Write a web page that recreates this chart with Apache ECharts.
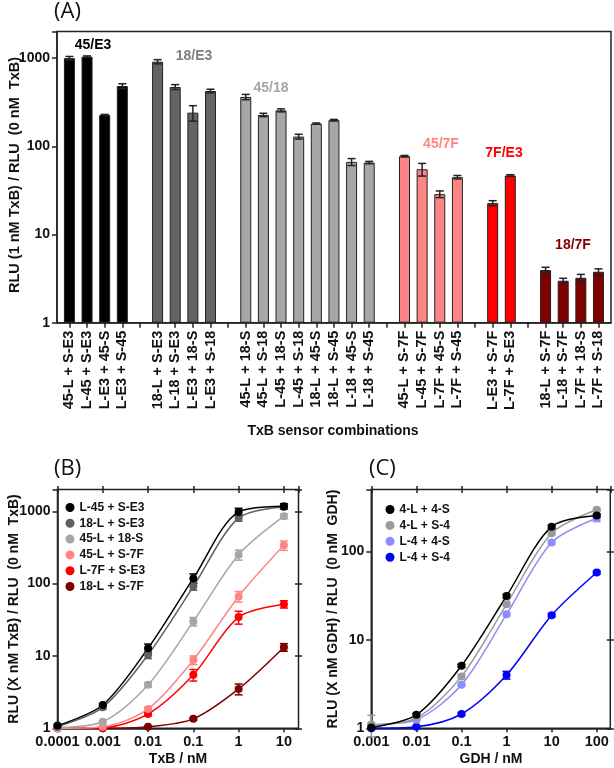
<!DOCTYPE html>
<html><head><meta charset="utf-8">
<script src="https://cdn.jsdelivr.net/npm/echarts@6/dist/echarts.min.js"></script>
<style>html,body{margin:0;padding:0;background:#fff}#c{width:614px;height:768px}</style>
</head><body><div id="c"></div><script>
// ---------- Panel A data ----------
const groupNames = ['45/E3','18/E3','45/18','45/7F','7F/E3','18/7F'];
const groupCategories = [
  ['45-L + S-E3','L-45 + S-E3','L-E3 + 45-S','L-E3 + S-45'],
  ['18-L + S-E3','L-18 + S-E3','L-E3 + 18-S','L-E3 + S-18'],
  ['45-L + 18-S','45-L + S-18','L-45 + 18-S','L-45 + S-18','18-L + 45-S','18-L + S-45','L-18 + 45-S','L-18 + S-45'],
  ['45-L + S-7F','L-45 + S-7F','L-7F + 45-S','L-7F + S-45'],
  ['L-E3 + S-7F','L-7F + S-E3'],
  ['18-L + S-7F','L-18 + S-7F','L-7F + 18-S','L-7F + S-18']
];
const groupValues = [
  [1000, 1040, 227, 483],
  [912, 471, 241, 424],
  [363, 227, 256, 129, 181, 198, 66.6, 65.5],
  [77.3, 55, 28.7, 44.7],
  [22.7, 46.7],
  [3.95, 2.99, 3.23, 3.78]
];
const groupErrors = [
  [45, 20, 3, 30],
  [50, 30, 48, 20],
  [25, 10, 10, 8, 3, 4, 6, 2],
  [1.5, 9, 2.5, 2],
  [1.5, 1],
  [0.3, 0.2, 0.3, 0.3]
];
const groupColors = ['#000000','#646464','#a7a7aa','#ff8585','#ff0000','#800000'];
const groupLabelColors = ['#000000','#7f7f7f','#a6a6a6','#ff8585','#ff0000','#800000'];
const yTicksA = [1, 10, 100, 1000];

// ---------- Panel B data ----------
const concB = [0.0001, 0.001, 0.01, 0.1, 1, 10];
const namesB = ['L-45 + S-E3','18-L + S-E3','45-L + 18-S','45-L + S-7F','L-7F + S-E3','18-L + S-7F'];
const colorsB = ['#000000','#606060','#a6a6a6','#ff8585','#ff0000','#800000'];
const valuesB = [
  [1.09, 2.1, 12.8, 118, 980, 1170],
  [1.05, 1.95, 10.4, 91, 810, 1150],
  [1.02, 1.23, 4.0, 30, 251, 855],
  [1.0, 1.05, 1.85, 8.8, 66.5, 338],
  [1.0, 1.02, 1.58, 5.5, 34.5, 52],
  [1.0, 1.0, 1.05, 1.35, 3.5, 13.2]
];
const errorsB = [
  [0.03, 0.1, 1.8, 18, 120, 100],
  [0.03, 0.1, 1.2, 10, 80, 60],
  [0.02, 0.05, 0.3, 4, 40, 65],
  [0.02, 0.02, 0.1, 1.2, 11, 50],
  [0.02, 0.02, 0.08, 1.0, 7, 6],
  [0.01, 0.01, 0.02, 0.05, 0.6, 1.6]
];

// ---------- Panel C data ----------
const concC = [0.001, 0.01, 0.1, 1, 10, 100];
const namesC = ['4-L + 4-S','4-L + S-4','L-4 + 4-S','L-4 + S-4'];
const colorsC = ['#000000','#9a9a9a','#8c8cff','#0000ff'];
const valuesC = [
  [1.02, 1.42, 5.1, 31.3, 190, 254],
  [1.1, 1.3, 3.86, 25.2, 160, 295],
  [1.1, 1.25, 3.1, 19.4, 126, 237],
  [1.0, 1.04, 1.45, 4.0, 19, 57.7]
];
const errorsC = [
  [0.05, 0.05, 0.2, 1.5, 8, 10],
  [0.3, 0.05, 0.2, 1, 6, 10],
  [0.05, 0.04, 0.1, 0.8, 6, 20],
  [0.02, 0.02, 0.05, 0.4, 0.8, 2]
];

// ---------- build ----------
const FONT = "'Liberation Sans', Arial, sans-serif";
const categories = [], barData = [], barErr = [];
groupCategories.forEach((cats, g) => {
  if (g > 0) { categories.push(''); barData.push('-'); }
  cats.forEach((c, i) => {
    const idx = categories.length;
    categories.push(c);
    barData.push({ value: groupValues[g][i], itemStyle: { color: groupColors[g] } });
    barErr.push([idx, groupValues[g][i] - groupErrors[g][i], groupValues[g][i] + groupErrors[g][i]]);
  });
});

function logFmt(v) {
  const l = Math.log10(v), e = Math.round(l);
  if (Math.abs(l - e) > 1e-6) return '';
  return e < 0 ? Math.pow(10, e).toFixed(-e) : String(Math.round(Math.pow(10, e)));
}

function errRender(color, cap) {
  return function (params, api) {
    const x = api.value(0);
    const lo = api.coord([x, api.value(1)]);
    const hi = api.coord([x, api.value(2)]);
    const st = { stroke: color, lineWidth: 1.5 };
    return { type: 'group', children: [
      { type: 'line', shape: { x1: lo[0], y1: lo[1], x2: hi[0], y2: hi[1] }, style: st },
      { type: 'line', shape: { x1: lo[0] - cap, y1: lo[1], x2: lo[0] + cap, y2: lo[1] }, style: st },
      { type: 'line', shape: { x1: hi[0] - cap, y1: hi[1], x2: hi[0] + cap, y2: hi[1] }, style: st }
    ]};
  };
}

const tickStyle = { color: '#222', width: 1.5 };
const lblBold = (size) => ({ fontFamily: FONT, fontWeight: 'bold', fontSize: size, color: '#111' });

const series = [];
// Panel A bars
series.push({ type: 'bar', xAxisIndex: 0, yAxisIndex: 0, data: barData, barWidth: 11,
  itemStyle: { borderColor: '#222', borderWidth: 1 }, silent: true });
series.push({ type: 'custom', xAxisIndex: 0, yAxisIndex: 0, data: barErr,
  encode: { x: 0, y: [1, 2] }, renderItem: errRender('#222', 4), z: 5 });

function addCurves(names, colors, conc, values, errors, xi, yi) {
  for (let s = names.length - 1; s >= 0; s--) {
    series.push({ type: 'line', name: names[s], xAxisIndex: xi, yAxisIndex: yi,
      data: conc.map((c, i) => [c, values[s][i]]),
      smooth: 0.3, symbol: 'circle', symbolSize: 8,
      itemStyle: { color: colors[s] }, lineStyle: { color: colors[s], width: 1.5 }, z: 3 });
    series.push({ type: 'custom', xAxisIndex: xi, yAxisIndex: yi,
      data: conc.map((c, i) => [c, values[s][i] - errors[s][i], values[s][i] + errors[s][i]]),
      encode: { x: 0, y: [1, 2] }, renderItem: errRender(colors[s], 4), z: 3 });
  }
}
addCurves(namesB, colorsB, concB, valuesB, errorsB, 2, 2);
addCurves(namesC, colorsC, concC, valuesC, errorsC, 4, 4);

const plainAxis = { splitLine: { show: false }, minorTick: { show: false } };

const option = {
  animation: false,
  backgroundColor: '#fff',
  grid: [
    { left: 60.6, top: 31.6, width: 546.7, height: 291.1 },
    { left: 57, top: 31.6, width: 554, height: 291.1, show: true, borderColor: '#222', borderWidth: 1.5 },
    { left: 57.5, top: 489.5, width: 241, height: 238.8, show: true, borderColor: '#222', borderWidth: 1.5 },
    { left: 371.3, top: 489.5, width: 239, height: 238.8, show: true, borderColor: '#222', borderWidth: 1.5 }
  ],
  xAxis: [
    Object.assign({ type: 'category', gridIndex: 0, data: categories, boundaryGap: true,
      axisLine: { show: false },
      axisTick: { show: true, alignWithLabel: true, interval: 0, length: 5, lineStyle: tickStyle },
      axisLabel: Object.assign({ rotate: 90, interval: 0, margin: 8 }, lblBold(14.5)) }, plainAxis),
    Object.assign({ type: 'value', gridIndex: 1, min: 0, max: 1, axisLine: { show: true, lineStyle: tickStyle },
      axisTick: { show: false }, axisLabel: { show: false } }, plainAxis),
    Object.assign({ type: 'log', gridIndex: 2, min: 0.0001, max: 21, position: 'bottom',
      axisLine: { show: true, lineStyle: tickStyle }, axisTick: { show: true, length: 4, lineStyle: tickStyle },
      axisLabel: Object.assign({ formatter: logFmt, margin: 6, showMaxLabel: false }, lblBold(14.5)) }, plainAxis),
    Object.assign({ type: 'log', gridIndex: 2, min: 0.0001, max: 21, position: 'top', offset: -3.5,
      axisLine: { show: false }, axisTick: { show: true, length: 7, lineStyle: tickStyle },
      axisLabel: { show: false } }, plainAxis),
    Object.assign({ type: 'log', gridIndex: 3, min: 0.001, max: 200, position: 'bottom',
      axisLine: { show: true, lineStyle: tickStyle }, axisTick: { show: true, length: 4, lineStyle: tickStyle },
      axisLabel: Object.assign({ formatter: logFmt, margin: 6, showMaxLabel: false }, lblBold(14.5)) }, plainAxis),
    Object.assign({ type: 'log', gridIndex: 3, min: 0.001, max: 200, position: 'top', offset: -3.5,
      axisLine: { show: false }, axisTick: { show: true, length: 7, lineStyle: tickStyle },
      axisLabel: { show: false } }, plainAxis)
  ],
  yAxis: [
    Object.assign({ type: 'log', gridIndex: 0, min: 1, max: 2000, show: false }, plainAxis),
    Object.assign({ type: 'log', gridIndex: 1, min: 1, max: 2000,
      axisLine: { show: true, lineStyle: tickStyle }, axisTick: { show: true, length: 5, lineStyle: tickStyle },
      axisLabel: Object.assign({ formatter: v => yTicksA.some(t => Math.abs(t - v) / t < 1e-6) ? logFmt(v) : '', margin: 7 }, lblBold(14)) }, plainAxis),
    Object.assign({ type: 'log', gridIndex: 2, min: 1, max: 2000, position: 'left',
      axisLine: { show: true, lineStyle: tickStyle }, axisTick: { show: true, length: 5, lineStyle: tickStyle },
      axisLabel: Object.assign({ formatter: logFmt, margin: 7 }, lblBold(14)) }, plainAxis),
    Object.assign({ type: 'log', gridIndex: 2, min: 1, max: 2000, position: 'right', offset: -3.5,
      axisLine: { show: false }, axisTick: { show: true, length: 7, lineStyle: tickStyle },
      axisLabel: { show: false } }, plainAxis),
    Object.assign({ type: 'log', gridIndex: 3, min: 1, max: 500, position: 'left',
      axisLine: { show: true, lineStyle: tickStyle }, axisTick: { show: true, length: 5, lineStyle: tickStyle },
      axisLabel: Object.assign({ formatter: logFmt, margin: 7 }, lblBold(14)) }, plainAxis),
    Object.assign({ type: 'log', gridIndex: 3, min: 1, max: 500, position: 'right', offset: -3.5,
      axisLine: { show: false }, axisTick: { show: true, length: 7, lineStyle: tickStyle },
      axisLabel: { show: false } }, plainAxis)
  ],
  legend: [
    { data: namesB, orient: 'vertical', left: 65.5, top: 501.5, icon: 'circle', itemWidth: 9, itemHeight: 9,
      itemGap: 3.8, padding: 0, textStyle: Object.assign({ lineHeight: 9 }, lblBold(12)), selectedMode: false },
    { data: namesC, orient: 'vertical', left: 385.5, top: 503.5, icon: 'circle', itemWidth: 9, itemHeight: 9,
      itemGap: 3.9, padding: 0, textStyle: Object.assign({ lineHeight: 9 }, lblBold(12)), selectedMode: false }
  ],
  series: series,
  graphic: [
    { type: 'text', left: 54, top: 1, style: { text: '(A)', font: "22px 'Open Sans', sans-serif", fill: '#111' } },
    { type: 'text', left: 54, top: 458, style: { text: '(B)', font: "22px 'Open Sans', sans-serif", fill: '#111' } },
    { type: 'text', left: 369, top: 458, style: { text: '(C)', font: "22px 'Open Sans', sans-serif", fill: '#111' } },
    { type: 'text', x: 15, y: 175, rotation: Math.PI / 2,
      style: { text: 'RLU (1 nM TxB) / RLU  (0 nM  TxB)', font: "bold 14.5px " + FONT, fill: '#111', align: 'center', verticalAlign: 'middle' } },
    { type: 'text', x: 333, y: 431,
      style: { text: 'TxB sensor combinations', font: "bold 14px " + FONT, fill: '#111', align: 'center', verticalAlign: 'middle' } },
    { type: 'text', x: 14, y: 609, rotation: Math.PI / 2,
      style: { text: 'RLU (X nM TxB) / RLU  (0 nM  TxB)', font: "bold 14px " + FONT, fill: '#111', align: 'center', verticalAlign: 'middle' } },
    { type: 'text', x: 333, y: 609, rotation: Math.PI / 2,
      style: { text: 'RLU (X nM GDH) / RLU  (0 nM  GDH)', font: "bold 14px " + FONT, fill: '#111', align: 'center', verticalAlign: 'middle' } },
    { type: 'text', x: 178, y: 759,
      style: { text: 'TxB / nM', font: "bold 14px " + FONT, fill: '#111', align: 'center', verticalAlign: 'middle' } },
    { type: 'text', x: 491, y: 759,
      style: { text: 'GDH / nM', font: "bold 14px " + FONT, fill: '#111', align: 'center', verticalAlign: 'middle' } }
  ].concat(groupNames.map((n, g) => ({ type: 'text',
      x: [93, 194, 271, 441, 504, 573][g], y: [45, 56, 88, 144, 153, 245][g],
      style: { text: n, font: "bold 14px " + FONT, fill: groupLabelColors[g], align: 'center', verticalAlign: 'middle' } })))
};

const chart = echarts.init(document.getElementById('c'), null, { renderer: 'canvas' });
chart.setOption(option);
</script></body></html>
